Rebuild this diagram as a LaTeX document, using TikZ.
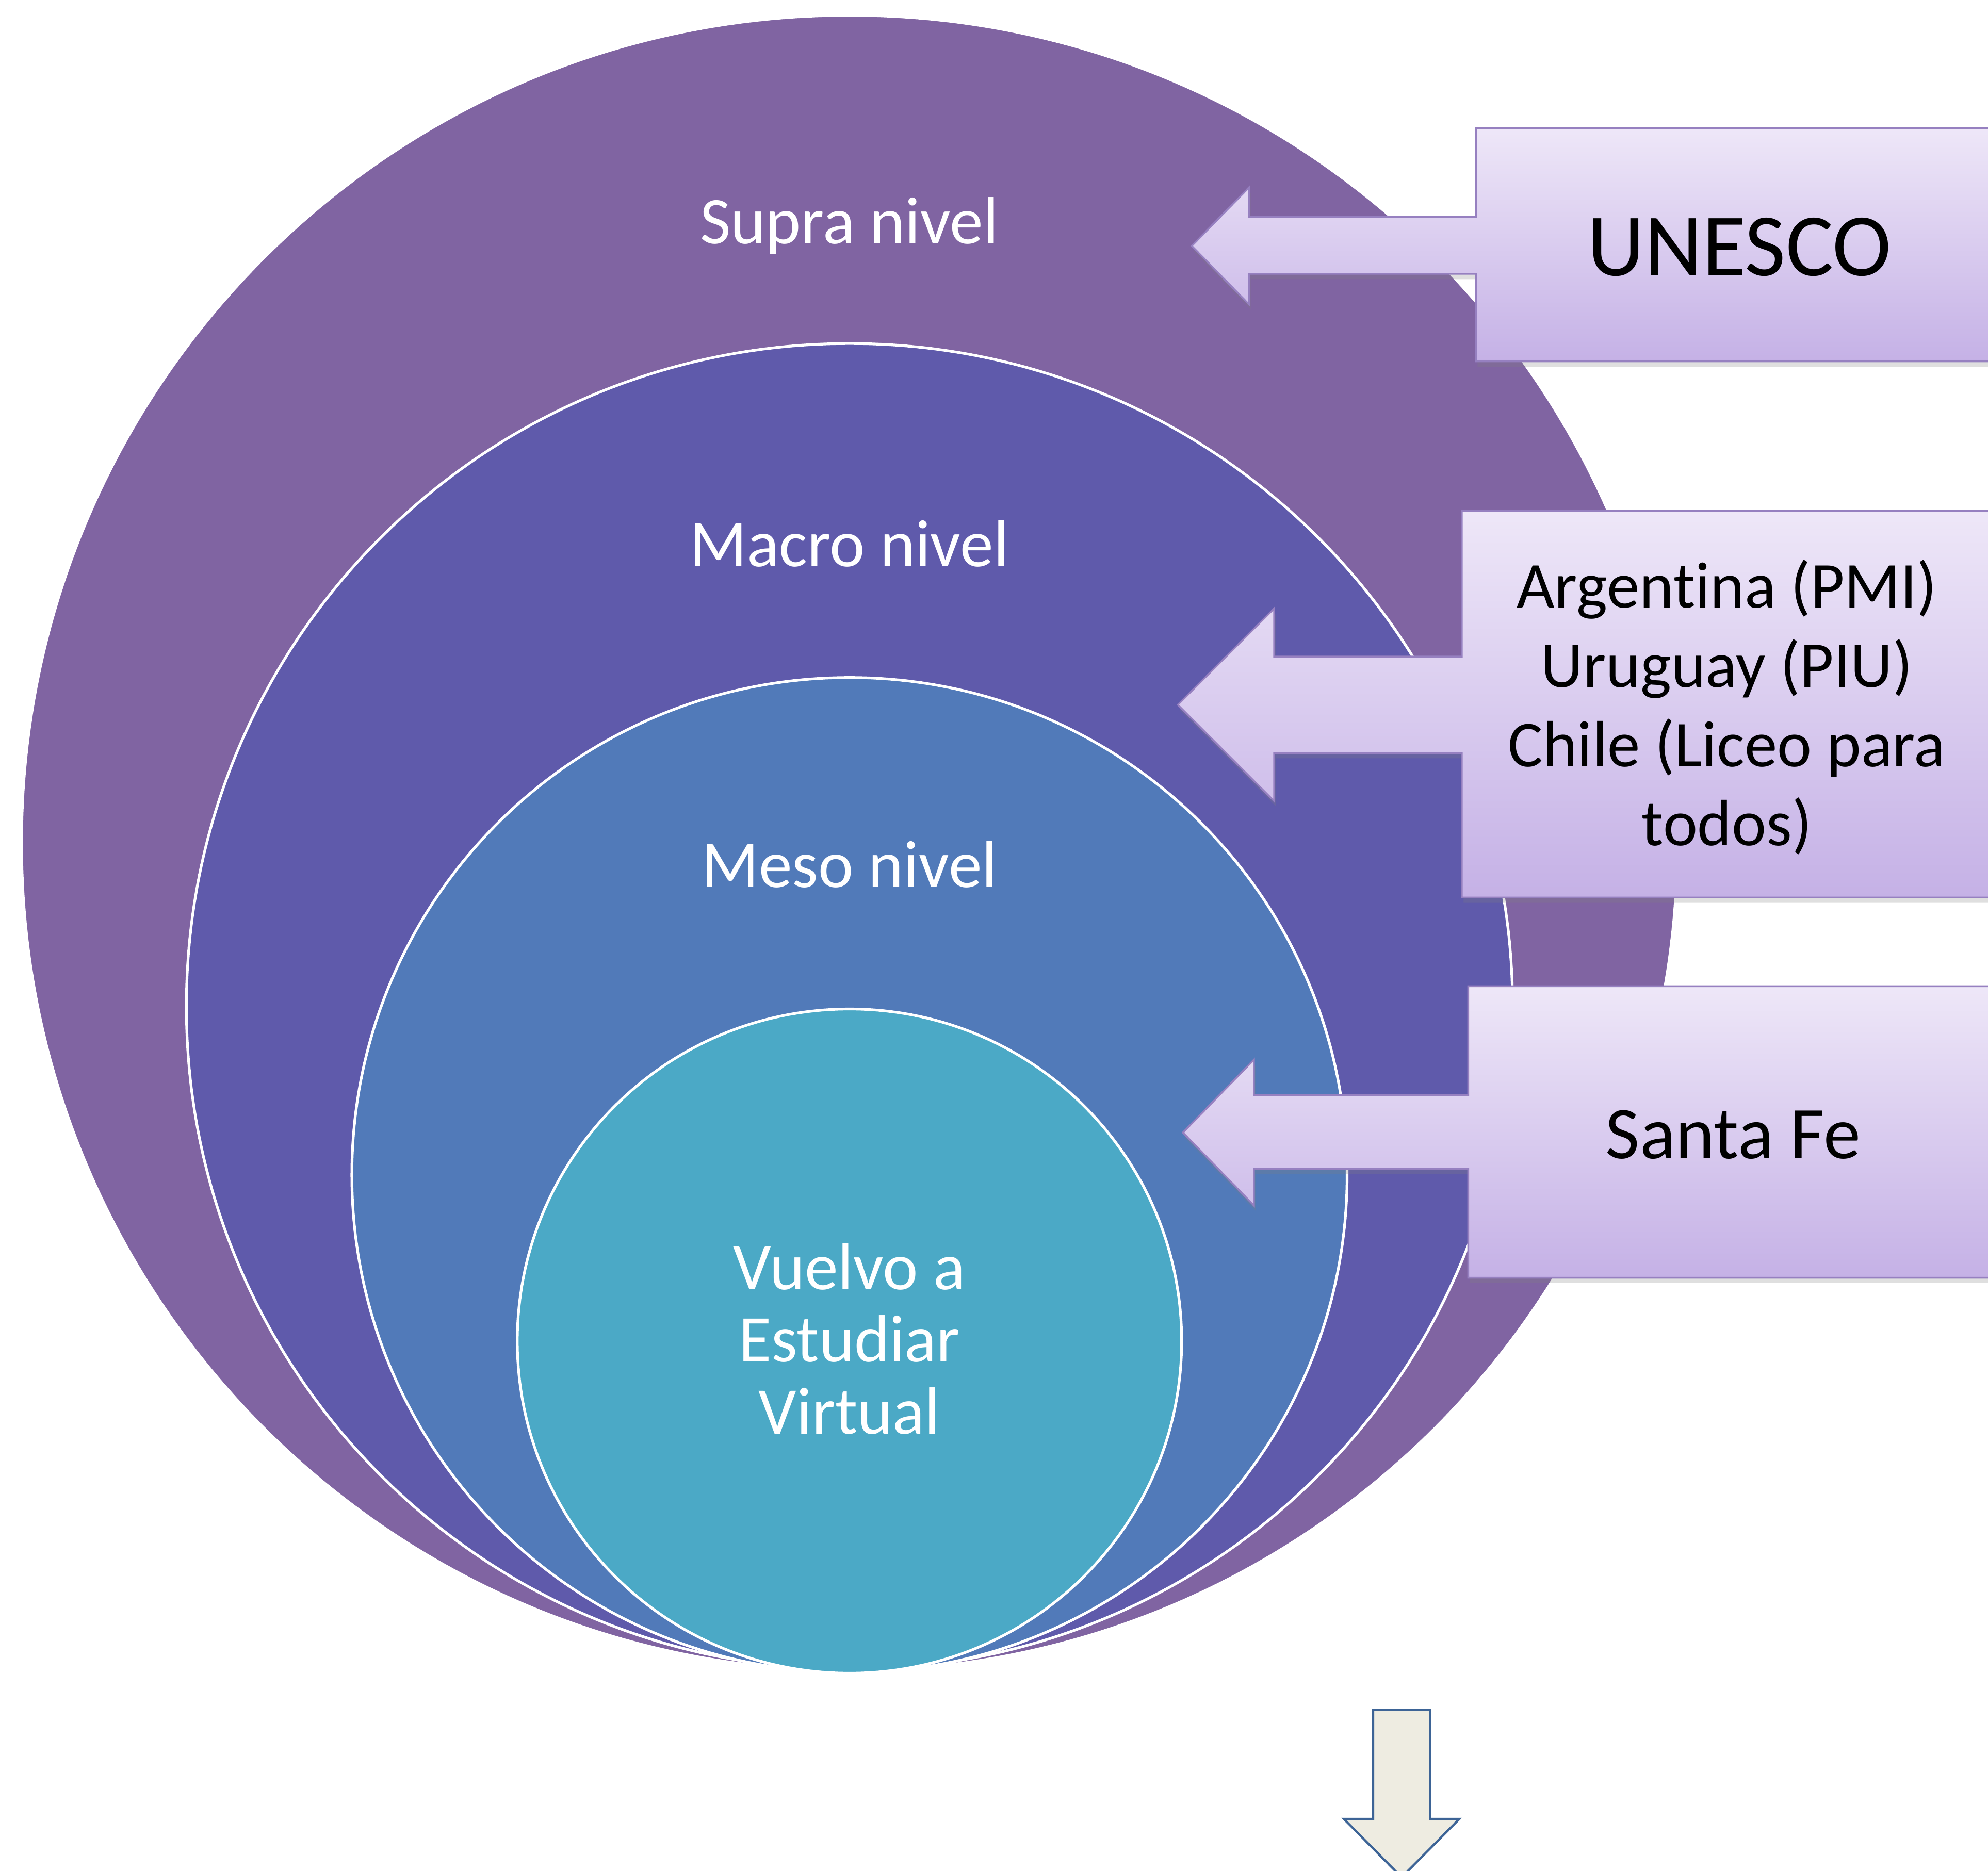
\documentclass[tikz,border=0pt]{standalone}
\usepackage{fontspec}
\setmainfont{Carlito}[Ligatures={NoCommon,NoContextual}]
\usetikzlibrary{calc}
\usetikzlibrary{shadows}

\definecolor{supra}{HTML}{8064A2}
\definecolor{macro}{HTML}{5F5AAB}
\definecolor{meso}{HTML}{517AB9}
\definecolor{micro}{HTML}{4BA9C6}
\definecolor{boxtop}{HTML}{EEE7F8}
\definecolor{boxbot}{HTML}{C5B1E6}
\definecolor{boxline}{HTML}{9680C0}
\definecolor{nextfill}{HTML}{EEECE1}
\definecolor{nextline}{HTML}{3D6496}

% box top, box bottom, box left, shaft top, shaft bottom, head x, head top, head bottom, tip x
\newcommand{\callout}[9]{%
  \path[callout] (1575,#1) -- (#3,#1) -- (#3,#4) -- (#6,#4) -- (#6,#7)
    -- (#9,{(#7+#8)/2}) -- (#6,#8) -- (#6,#5) -- (#3,#5) -- (#3,#2)
    -- (1575,#2) -- cycle;}

\begin{document}
\begin{tikzpicture}[
     x=0.1mm,y=-0.1mm,
     lvl/.style={circle,draw=white,line width=0.6pt,inner sep=0pt},
     lvltext/.style={text=white,font=\fontsize{15}{16.2}\selectfont,align=center},
     callout/.style={top color=boxtop,bottom color=boxbot,draw=boxline,line width=0.4pt,
       drop shadow={opacity=0.25,shadow xshift=0.4pt,shadow yshift=-1.2pt}},
     boxtext/.style={text=black,align=center},
     next/.style={fill=nextfill,draw=nextline,line width=0.5pt}
   ]
   \path[use as bounding box] (0,0) rectangle (1568,1476);
   % Nested levels.
   \node[lvl,fill=supra,minimum size=130.6mm] (supra) at (670,665) {};
   \node[lvl,fill=macro,minimum size=104.6mm] (macro) at (670,794) {};
   \node[lvl,fill=meso,minimum size=78.5mm] (meso) at (670,927) {};
   \node[lvl,fill=micro,minimum size=52.4mm] (micro) at (670,1058) {};
   \node[lvltext] (supralbl) at (670,178) {Supra nivel};
   \node[lvltext] (macrolbl) at (670,429) {Macro nivel};
   \node[lvltext] (mesolbl) at (670,682) {Meso nivel};
   \node[lvltext] (microlbl) at (670,1056) {Vuelvo a\\Estudiar\\Virtual};
   % Callouts.
   \callout{101}{285}{1164}{171}{216}{985}{148}{240}{940}
   \callout{403}{708}{1153}{518}{594}{1005}{480}{632}{929}
   \callout{778}{1008}{1158}{864}{922}{989}{836}{951}{933}
   \node[boxtext,font=\fontsize{20}{24}\selectfont] (unesco) at (1372,195) {UNESCO};
   \node[boxtext,font=\fontsize{14.7}{17.8}\selectfont] (paises) at (1362,558)
     {Argentina (PMI)\\Uruguay (PIU)\\Chile (Liceo para\\todos)};
   \node[boxtext,font=\fontsize{16.7}{20}\selectfont] (santafe) at (1367,895) {Santa Fe};
   % Next step.
   \draw[next] (1083,1349) -- (1128,1349) -- (1128,1435) -- (1151,1435)
     -- (1105.5,1481) -- (1060,1435) -- (1083,1435) -- cycle;
\end{tikzpicture}
\end{document}
